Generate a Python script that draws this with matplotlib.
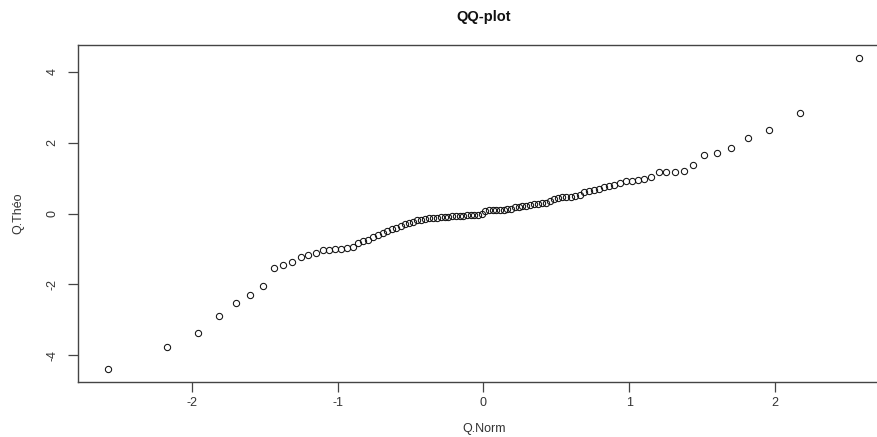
import matplotlib
matplotlib.use("Agg")
import matplotlib.pyplot as plt

# Theoretical normal quantiles (x)
q_norm = [
    -2.5758, -2.1701, -1.9600, -1.8119, -1.6954, -1.5982, -1.5141, -1.4395, -1.3722, -1.3106,
    -1.2536, -1.2004, -1.1503, -1.1031, -1.0581, -1.0152, -0.9741, -0.9346, -0.8965, -0.8596,
    -0.8239, -0.7892, -0.7554, -0.7225, -0.6903, -0.6588, -0.6280, -0.5978, -0.5681, -0.5388,
    -0.5101, -0.4817, -0.4538, -0.4261, -0.3989, -0.3719, -0.3451, -0.3186, -0.2924, -0.2663,
    -0.2404, -0.2147, -0.1891, -0.1637, -0.1383, -0.1130, -0.0878, -0.0627, -0.0376, -0.0125,
    0.0125, 0.0376, 0.0627, 0.0878, 0.1130, 0.1383, 0.1637, 0.1891, 0.2147, 0.2404,
    0.2663, 0.2924, 0.3186, 0.3451, 0.3719, 0.3989, 0.4261, 0.4538, 0.4817, 0.5101,
    0.5388, 0.5681, 0.5978, 0.6280, 0.6588, 0.6903, 0.7225, 0.7554, 0.7892, 0.8239,
    0.8596, 0.8965, 0.9346, 0.9741, 1.0152, 1.0581, 1.1031, 1.1503, 1.2004, 1.2536,
    1.3106, 1.3722, 1.4395, 1.5141, 1.5982, 1.6954, 1.8119, 1.9600, 2.1701, 2.5758,
]

# Sample quantiles (y)
q_theo = [
    -4.39, -3.78, -3.38, -2.90, -2.54, -2.29, -2.05, -1.53, -1.46, -1.37,
    -1.23, -1.16, -1.12, -1.03, -1.03, -1.01, -0.99, -0.98, -0.94, -0.82,
    -0.78, -0.74, -0.67, -0.61, -0.56, -0.50, -0.45, -0.40, -0.35, -0.31,
    -0.27, -0.23, -0.19, -0.17, -0.15, -0.14, -0.13, -0.12, -0.11, -0.10,
    -0.09, -0.08, -0.07, -0.07, -0.06, -0.05, -0.05, -0.04, -0.03, -0.02,
    0.06, 0.09, 0.10, 0.10, 0.10, 0.11, 0.12, 0.14, 0.17, 0.19,
    0.20, 0.21, 0.23, 0.26, 0.28, 0.29, 0.31, 0.35, 0.40, 0.43,
    0.46, 0.47, 0.48, 0.50, 0.52, 0.60, 0.64, 0.65, 0.68, 0.74,
    0.78, 0.81, 0.87, 0.92, 0.93, 0.95, 0.97, 1.02, 1.16, 1.16,
    1.18, 1.20, 1.38, 1.66, 1.70, 1.84, 2.12, 2.35, 2.85, 4.40,
]

x_ticks = [-2, -1, 0, 1, 2]
y_ticks = [-4, -2, 0, 2, 4]
title = "QQ-plot"
x_label = "Q.Norm"
y_label = "Q.Théo"

plt.rcParams["font.family"] = ["Liberation Sans", "DejaVu Sans"]

W, H = 878, 437
fig = plt.figure(figsize=(W / 100, H / 100), dpi=100)
fig.patch.set_facecolor("white")

left_px, right_px, top_px, bottom_px = 78, 889, 45, 382
ax = fig.add_axes([left_px / W, 1 - bottom_px / H,
                   (right_px - left_px) / W, (bottom_px - top_px) / H])

ax.plot(q_norm, q_theo, linestyle="none", marker="o", markersize=4.5,
        markerfacecolor="none", markeredgecolor="#111111", markeredgewidth=0.75)

ax.set_xlim(-2.781, 2.781)
ax.set_ylim(-4.76, 4.76)
ax.set_xticks(x_ticks)
ax.set_yticks(y_ticks)
ax.set_xticklabels([str(v) for v in x_ticks])
ax.set_yticklabels([str(v) for v in y_ticks], rotation=90, va="center")

for s in ax.spines.values():
    s.set_color("#444444")
    s.set_linewidth(1.0)

ax.tick_params(axis="both", direction="out", length=7, width=0.9,
               color="#444444", labelcolor="#333333", labelsize=9)
ax.tick_params(axis="x", pad=4)
ax.tick_params(axis="y", pad=7)

fig.text((left_px + right_px) / 2 / W, 1 - 17 / H, title, ha="center", va="center",
         fontsize=10.5, fontweight="bold", color="#111111")
fig.text(484 / W, 1 - 429 / H, x_label, ha="center", va="center",
         fontsize=9, color="#333333")
fig.text(18 / W, 1 - 213 / H, y_label, ha="center", va="center",
         fontsize=9, color="#333333", rotation=90)

fig.savefig("out.png", dpi=100, facecolor="white")
